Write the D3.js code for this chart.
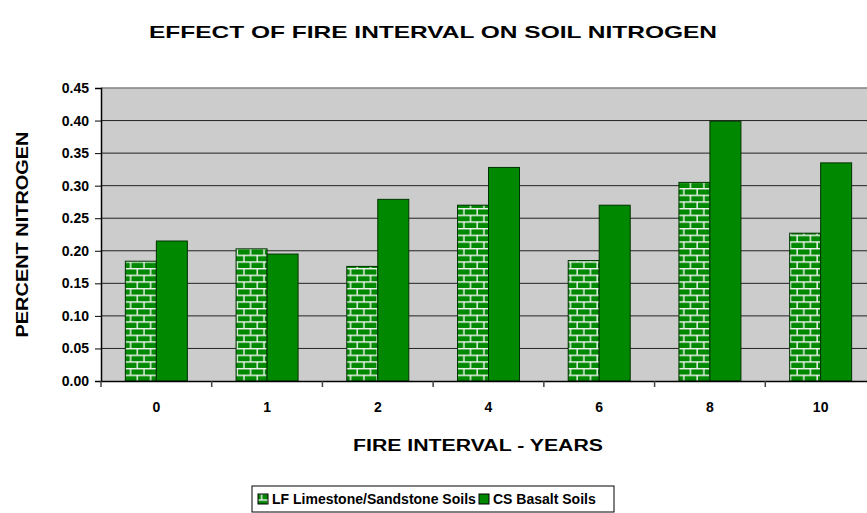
<!DOCTYPE html>
<html>
<head>
<meta charset="utf-8">
<script src="https://cdn.jsdelivr.net/npm/d3@7"></script>
<style>
  body { margin: 0; background: #fff; overflow: hidden; }
  text { font-family: "Liberation Sans", Arial, sans-serif; font-weight: bold; fill: #000; }
</style>
</head>
<body>
<div id="chart"></div>
<script>
// chart data
const categories = ["0", "1", "2", "4", "6", "8", "10"];
const seriesNames = ["LF Limestone/Sandstone Soils", "CS Basalt Soils"];
const lfValues = [0.184, 0.203, 0.176, 0.270, 0.185, 0.305, 0.227];
const csValues = [0.215, 0.195, 0.279, 0.328, 0.270, 0.399, 0.335];
const yTicks = [0, 0.05, 0.10, 0.15, 0.20, 0.25, 0.30, 0.35, 0.40, 0.45];

const width = 867, height = 513;
const margin = { top: 88, left: 101, bottom: 132 };
const plotW = 775; // runs past the right edge, like the original
const plotH = height - margin.top - margin.bottom;

const svg = d3.select("#chart").append("svg")
    .attr("width", width)
    .attr("height", height);

// brick pattern for the first series
const defs = svg.append("defs");
const pat = defs.append("pattern")
    .attr("id", "brick")
    .attr("patternUnits", "userSpaceOnUse")
    .attr("width", 13.33)
    .attr("height", 13.33);
pat.append("rect").attr("width", 13.33).attr("height", 13.33).attr("fill", "#008800");
const mortar = "M0,0.7H13.33M0,7.37H13.33M3,0V6.67M9.67,6.67V13.33";
pat.append("path").attr("d", mortar).attr("stroke", "#f4f4f4").attr("stroke-width", 1.4).attr("fill", "none");

const g = svg.append("g").attr("transform", `translate(${margin.left},${margin.top})`);

const x = d3.scaleBand().domain(categories).range([0, plotW]);
const y = d3.scaleLinear().domain([0, 0.45]).range([plotH, 0]);

g.append("rect")
    .attr("width", plotW)
    .attr("height", plotH)
    .attr("fill", "#cccccc");

// gridlines
g.selectAll(".grid")
    .data(yTicks.slice(1))
    .enter().append("line")
    .attr("x1", 0).attr("x2", plotW)
    .attr("y1", d => y(d)).attr("y2", d => y(d))
    .attr("stroke", (d, i) => i === yTicks.length - 2 ? "#808080" : "#222")
    .attr("stroke-width", (d, i) => i === yTicks.length - 2 ? 1.5 : 1);

// bars
const bw = x.bandwidth() * 0.28;
const data = categories.map((c, i) => ({ c, lf: lfValues[i], cs: csValues[i] }));

g.selectAll(".lf")
    .data(data)
    .enter().append("rect")
    .attr("x", d => x(d.c) + x.bandwidth() / 2 - bw)
    .attr("y", d => y(d.lf))
    .attr("width", bw)
    .attr("height", d => y(0) - y(d.lf))
    .attr("fill", "url(#brick)")
    .attr("stroke", "#003300")
    .attr("stroke-width", 1);

g.selectAll(".cs")
    .data(data)
    .enter().append("rect")
    .attr("x", d => x(d.c) + x.bandwidth() / 2)
    .attr("y", d => y(d.cs))
    .attr("width", bw)
    .attr("height", d => y(0) - y(d.cs))
    .attr("fill", "#008800")
    .attr("stroke", "#003300")
    .attr("stroke-width", 1);

// y axis
const yAxis = g.append("g")
    .call(d3.axisLeft(y).tickValues(yTicks).tickFormat(d3.format(".2f")).tickSize(6).tickPadding(6));
yAxis.select(".domain").attr("stroke", "#000").attr("stroke-width", 1.5);
yAxis.selectAll(".tick line").attr("stroke", "#000");
yAxis.selectAll("text").style("font-size", "14px").style("font-family", "Liberation Sans, Arial, sans-serif").style("font-weight", "bold");

// x axis
const xAxis = g.append("g")
    .attr("transform", `translate(0,${plotH})`)
    .call(d3.axisBottom(x).tickSize(0).tickPadding(21));
xAxis.select(".domain").attr("stroke", "#000").attr("stroke-width", 1.5);
xAxis.selectAll("text").style("font-size", "14px").style("font-family", "Liberation Sans, Arial, sans-serif").style("font-weight", "bold");
g.selectAll(".xtick")
    .data(categories)
    .enter().append("line")
    .attr("x1", d => x(d)).attr("x2", d => x(d))
    .attr("y1", plotH).attr("y2", plotH + 6)
    .attr("stroke", "#444")
    .attr("stroke-width", 1.5);

// titles
svg.append("text")
    .attr("x", 433).attr("y", 38)
    .attr("text-anchor", "middle")
    .style("font-size", "17px")
    .attr("textLength", 568)
    .attr("lengthAdjust", "spacingAndGlyphs")
    .text("EFFECT OF FIRE INTERVAL ON SOIL NITROGEN");

svg.append("text")
    .attr("x", 478).attr("y", 451)
    .attr("text-anchor", "middle")
    .style("font-size", "16px")
    .attr("textLength", 250)
    .attr("lengthAdjust", "spacingAndGlyphs")
    .text("FIRE INTERVAL - YEARS");

svg.append("text")
    .attr("transform", `translate(28,${margin.top + plotH / 2}) rotate(-90)`)
    .attr("text-anchor", "middle")
    .style("font-size", "16px")
    .attr("textLength", 206)
    .attr("lengthAdjust", "spacingAndGlyphs")
    .text("PERCENT NITROGEN");

// legend
const legend = svg.append("g").attr("transform", "translate(252,486)");
legend.append("rect")
    .attr("width", 362).attr("height", 26)
    .attr("fill", "#fff")
    .attr("stroke", "#000")
    .attr("stroke-width", 1);
const items = [
    { name: seriesNames[0], fill: "url(#brick)", x: 6 },
    { name: seriesNames[1], fill: "#008800", x: 227 }
];
items.forEach(it => {
    legend.append("rect")
        .attr("x", it.x).attr("y", 8)
        .attr("width", 10).attr("height", 10)
        .attr("fill", it.fill)
        .attr("stroke", "#000");
    legend.append("text")
        .attr("x", it.x + 14).attr("y", 18)
        .style("font-size", "14px")
        .text(it.name);
});
</script>
</body>
</html>
